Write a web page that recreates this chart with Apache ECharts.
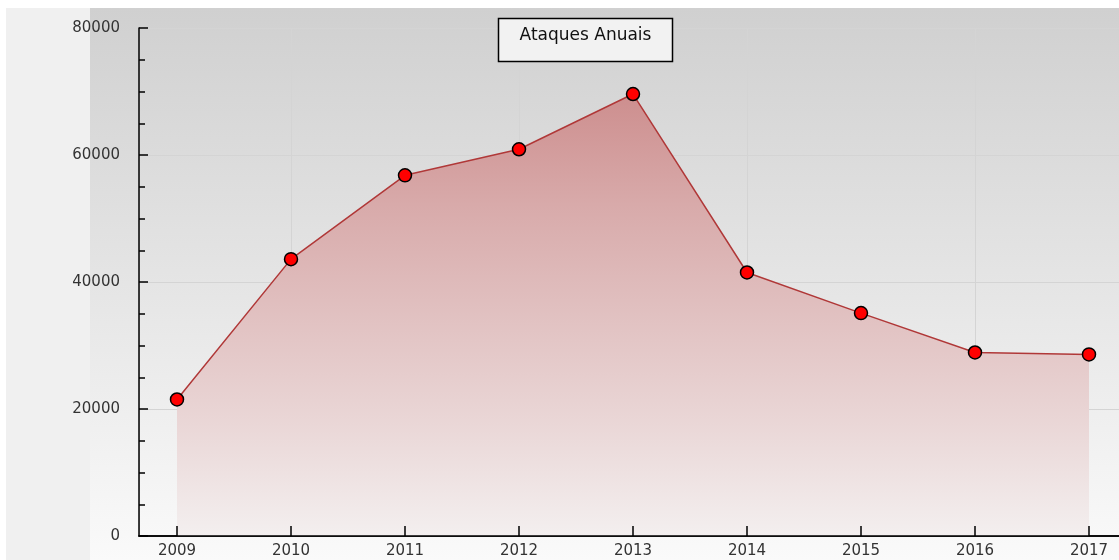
<!DOCTYPE html>
<html>
<head>
<meta charset="utf-8">
<script src="https://cdn.jsdelivr.net/npm/echarts@6/dist/echarts.min.js"></script>
<style>
html,body{margin:0;padding:0;background:#fff;}
#chart{width:1119px;height:560px;}
</style>
</head>
<body>
<div id="chart"></div>
<script>
const years = [2009, 2010, 2011, 2012, 2013, 2014, 2015, 2016, 2017];
const attacks = [21500, 43600, 56800, 60900, 69600, 41500, 35100, 28900, 28600];
const yTicks = [0, 20000, 40000, 60000, 80000];
const titleText = 'Ataques Anuais';

const chart = echarts.init(document.getElementById('chart'), null, {renderer: 'canvas'});
const font = 'DejaVu Sans';
const xMin = 2009 - 38 / 114;
const xMax = xMin + 980 / 114;
const option = {
  animation: false,
  backgroundColor: '#ffffff',
  graphic: [
    {type: 'rect', z: -10, silent: true, shape: {x: 6, y: 8, width: 84, height: 552}, style: {fill: '#f0f0f0'}},
    {type: 'rect', z: -10, silent: true, shape: {x: 90, y: 8, width: 1029, height: 552},
      style: {fill: new echarts.graphic.LinearGradient(0, 0, 0, 1, [
        {offset: 0, color: '#d0d0d0'}, {offset: 1, color: '#fafafa'}])}},
    {type: 'rect', z: 100, shape: {x: 498.5, y: 18.5, width: 174, height: 43},
      style: {fill: '#f2f2f2', stroke: '#000', lineWidth: 1.5}},
    {type: 'text', z: 101, x: 585.5, y: 35.5,
      style: {text: titleText, font: '17px "DejaVu Sans"', fill: '#111', align: 'center', verticalAlign: 'middle'}}
  ],
  grid: {left: 139, top: 28, bottom: 24, right: 0, containLabel: false},
  xAxis: [{
    type: 'value',
    min: xMin,
    max: xMax,
    axisLine: {show: true, lineStyle: {color: '#000', width: 1.5}},
    axisTick: {show: false},
    axisLabel: {customValues: years, margin: 8, color: '#333', fontFamily: font, fontSize: 15, formatter: v => String(v)},
    splitLine: {show: true, lineStyle: {color: '#d4d4d4', width: 1}}
  }, {
    type: 'value',
    position: 'bottom',
    offset: 0,
    z: 10,
    min: xMin,
    max: xMax,
    axisLine: {show: true, lineStyle: {color: '#000', width: 1.5}},
    axisTick: {show: true, inside: true, length: 10, customValues: years, lineStyle: {color: '#000', width: 1.5}},
    axisLabel: {show: false},
    splitLine: {show: false}
  }],
  yAxis: {
    type: 'value',
    min: 0, max: 80000, interval: 20000,
    axisLine: {show: true, lineStyle: {color: '#000', width: 1.5}},
    axisTick: {show: true, inside: true, length: 9, lineStyle: {color: '#000', width: 1.5}},
    minorTick: {show: true, splitNumber: 4, length: 6, lineStyle: {color: '#000', width: 1.5}},
    axisLabel: {margin: 19, color: '#333', fontFamily: font, fontSize: 15, formatter: v => String(v)},
    splitLine: {show: true, lineStyle: {color: '#d4d4d4', width: 1}}
  },
  series: [{
    type: 'line',
    xAxisIndex: 0,
    data: years.map((y, i) => [y, attacks[i]]),
    symbol: 'circle',
    symbolSize: 13,
    itemStyle: {color: '#ff0000', borderColor: '#000', borderWidth: 1.5},
    lineStyle: {color: '#b03838', width: 1.5},
    areaStyle: {
      opacity: 1,
      color: new echarts.graphic.LinearGradient(0, 0, 0, 1, [
        {offset: 0, color: '#cd8e8e'},
        {offset: 0.25, color: '#d8aaaa'},
        {offset: 0.5, color: '#e1c1c1'},
        {offset: 0.75, color: '#ead7d7'},
        {offset: 1, color: '#f3efef'}])
    }
  }]
};
chart.setOption(option);
</script>
</body>
</html>
